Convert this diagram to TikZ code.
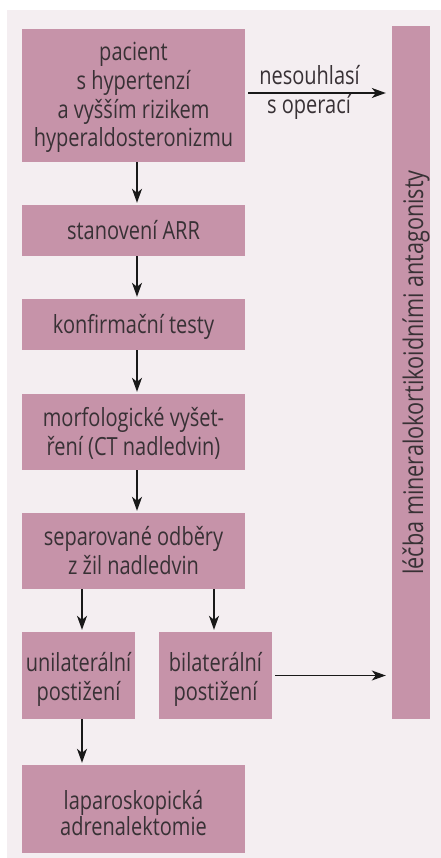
\documentclass[tikz,border=0pt]{standalone}
\usepackage{fontspec}
\setmainfont{Open Sans}[FakeStretch=0.8]
\usetikzlibrary{arrows.meta}
\definecolor{boxfill}{RGB}{198,147,169}
\definecolor{bgfill}{RGB}{244,238,241}
\definecolor{txt}{RGB}{56,49,53}
\setlength{\tabcolsep}{0pt}
\newcommand{\tlines}[2]{\fontsize{25}{#1}\selectfont\begin{tabular}[t]{c}#2\end{tabular}}
\begin{document}
\begin{tikzpicture}[x=1pt,y=-1pt,
  box/.style={fill=boxfill,draw=none,inner sep=0pt},
  btxt/.style={text=txt,inner sep=0pt,anchor=base},
  arr/.style={-{Stealth[length=14pt,width=10pt,inset=4pt]},line width=1.3pt,black!90}]
\useasboundingbox (0,0) rectangle (441,858);
\fill[bgfill] (7,10) rectangle (441,858);
% boxes
\node[box,minimum width=223pt,minimum height=133pt] (b1) at (133.5,95.5) {};
\node[box,minimum width=223pt,minimum height=51pt] (b2) at (133.5,230.5) {};
\node[box,minimum width=223pt,minimum height=51pt] (b3) at (133.5,324.5) {};
\node[box,minimum width=223pt,minimum height=76pt] (b4) at (133.5,432) {};
\node[box,minimum width=223pt,minimum height=76pt] (b5) at (133.5,551) {};
\node[box,minimum width=113pt,minimum height=87pt] (b6) at (78.5,675.5) {};
\node[box,minimum width=113pt,minimum height=87pt] (b7) at (215.5,675.5) {};
\node[box,minimum width=223pt,minimum height=88pt] (b8) at (133.5,809) {};
\node[box,minimum width=38pt,minimum height=693pt] (bar) at (411,372.5) {};
% texts
\node[btxt] (b1t) at (133.5,61) {\tlines{28.6}{pacient\\s hypertenzí\\a vyšším rizikem\\hyperaldosteronizmu}};
\node[btxt] (b2t) at (133.5,240) {\tlines{28.5}{stanovení ARR}};
\node[btxt] (b3t) at (133.5,333.3) {\tlines{28.5}{konfirmační testy}};
\node[btxt] (b4t) at (133.5,426.7) {\tlines{28.3}{morfologické vyšet-\\ření (CT nadledvin)}};
\node[btxt] (b5t) at (133.5,545.3) {\tlines{28.8}{separované odběry\\z žil nadledvin}};
\node[btxt] (b6t) at (78.5,671.7) {\tlines{28.3}{unilaterální\\postižení}};
\node[btxt] (b7t) at (215.5,671.7) {\tlines{28.3}{bilaterální\\postižení}};
\node[btxt] (b8t) at (133.5,809.3) {\tlines{25}{laparoskopická\\adrenalektomie}};
\node[text=txt,font=\fontsize{27}{30}\selectfont,rotate=90,inner sep=0pt,anchor=base] (bart) at (423,372.5) {léčba mineralokortikoidními antagonisty};
% arrows
\foreach \a/\b in {b1/b2,b2/b3,b3/b4,b4/b5}{
  \coordinate (c\a) at ([xshift=3.5pt]\a.south);
  \draw[arr,shorten >=2pt] (c\a) -- (c\a |- \b.north);
}
\coordinate (s1) at ([xshift=3.5pt]b5.south -| b6.north);
\coordinate (s2) at ([xshift=-1.5pt]b5.south -| b7.north);
\draw[arr,shorten >=2pt] (s1) -- (s1 |- b6.north);
\draw[arr,shorten >=2pt] (s2) -- (s2 |- b7.north);
\coordinate (s3) at ([xshift=3.5pt]b6.south);
\draw[arr,shorten >=2pt] (s3) -- (s3 |- b8.north);
\coordinate (t1) at ([yshift=2.5pt]b1.east);
\draw[arr,shorten <=3pt,shorten >=6pt] (t1) -- (t1 -| bar.west);
\node[btxt,font=\fontsize{25}{28}\selectfont] (l1) at (309.5,85) {nesouhlasí};
\node[btxt,font=\fontsize{25}{28}\selectfont] (l2) at (309,113.3) {s operací};
\draw[arr,shorten <=3pt,shorten >=6pt] (b7.east) -- (b7.east -| bar.west);
\end{tikzpicture}
\end{document}
